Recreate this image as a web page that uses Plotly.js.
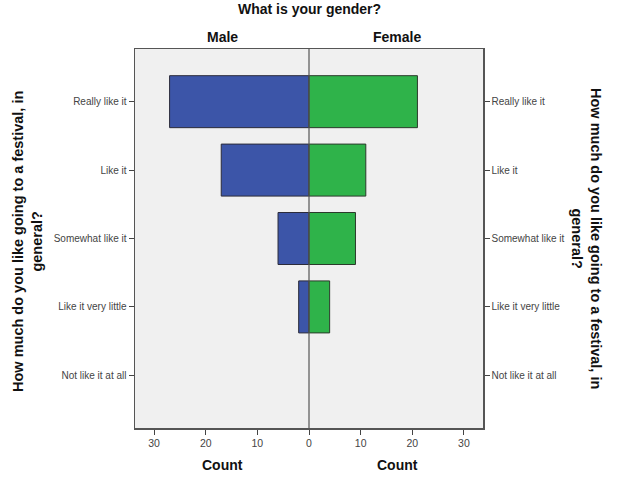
<!DOCTYPE html>
<html>
<head>
<meta charset="utf-8">
<script src="https://cdn.plot.ly/plotly-3.0.1.min.js"></script>
<style>html,body{margin:0;padding:0;background:#fff;}#chart{width:619px;height:480px;}</style>
</head>
<body>
<div id="chart"></div>
<script>
const categories = ["Really like it", "Like it", "Somewhat like it", "Like it very little", "Not like it at all"];
const maleCounts = [27, 17, 6, 2, 0];
const femaleCounts = [21, 11, 9, 4, 0];
const tickValues = [-30, -20, -10, 0, 10, 20, 30];
const tickLabels = ["30", "20", "10", "0", "10", "20", "30"];
const chartTitle = "What is your gender?";
const panelLabels = ["Male", "Female"];
const axisTitle = "How much do you like going to a festival, in<br>general?";
const countLabel = "Count";

const font = "Arial, 'Liberation Sans', sans-serif";
const yRange = [4.77, -0.77];

const traces = [
  {
    type: "bar", orientation: "h",
    x: maleCounts.map(v => -v), y: categories,
    width: 0.76,
    marker: {color: "#3c55a8", line: {color: "#2b2b3a", width: maleCounts.map(v => v > 0 ? 1 : 0)}},
    hoverinfo: "skip", yaxis: "y"
  },
  {
    type: "bar", orientation: "h",
    x: femaleCounts, y: categories,
    width: 0.76,
    marker: {color: "#2fb34a", line: {color: "#2b3a2b", width: femaleCounts.map(v => v > 0 ? 1 : 0)}},
    hoverinfo: "skip", yaxis: "y2"
  }
];

const yCommon = {
  type: "category", categoryarray: categories, categoryorder: "array",
  range: yRange, ticks: "outside", ticklen: 5, tickcolor: "#444", tickwidth: 1,
  showgrid: false, zeroline: false,
  tickfont: {family: font, size: 10, color: "#444"}
};

const layout = {
  width: 619, height: 480,
  margin: {l: 135, r: 136, t: 49, b: 52},
  paper_bgcolor: "#ffffff", plot_bgcolor: "#f0f0f0",
  barmode: "overlay", showlegend: false,
  font: {family: font},
  xaxis: {
    range: [-33.7, 33.7], tickvals: tickValues, ticktext: tickLabels,
    ticks: "outside", ticklen: 5, tickcolor: "#444",
    showline: true, linecolor: "#555", linewidth: 1.5, mirror: true,
    showgrid: false, zeroline: false,
    tickfont: {family: font, size: 10.5, color: "#444"}
  },
  yaxis: Object.assign({}, yCommon, {side: "left", showline: true, linecolor: "#555", linewidth: 1.5}),
  yaxis2: Object.assign({}, yCommon, {side: "right", overlaying: "y", showline: true, linecolor: "#555", linewidth: 1.5}),
  shapes: [
    {type: "line", xref: "x", yref: "paper", x0: 0, x1: 0, y0: 0, y1: 1, layer: "above", line: {color: "#555", width: 1.2}}
  ],
  annotations: [
    {text: "<b>" + chartTitle + "</b>", xref: "paper", yref: "paper", x: 0.5, y: 1.078, yanchor: "bottom", xanchor: "center", showarrow: false, font: {family: font, size: 14, color: "#111"}},
    {text: "<b>" + panelLabels[0] + "</b>", xref: "paper", yref: "paper", x: 0.25, y: 1.032, xanchor: "center", yanchor: "middle", showarrow: false, font: {family: font, size: 14, color: "#111"}},
    {text: "<b>" + panelLabels[1] + "</b>", xref: "paper", yref: "paper", x: 0.753, y: 1.032, xanchor: "center", yanchor: "middle", showarrow: false, font: {family: font, size: 14, color: "#111"}},
    {text: "<b>" + countLabel + "</b>", xref: "paper", yref: "paper", x: 0.25, y: -0.098, xanchor: "center", yanchor: "middle", showarrow: false, font: {family: font, size: 14, color: "#111"}},
    {text: "<b>" + countLabel + "</b>", xref: "paper", yref: "paper", x: 0.753, y: -0.098, xanchor: "center", yanchor: "middle", showarrow: false, font: {family: font, size: 14, color: "#111"}},
    {text: "<b>" + axisTitle + "</b>", xref: "paper", yref: "paper", x: (27 - 135) / 348, y: (428 - 242) / 379, xanchor: "center", yanchor: "middle", textangle: -90, showarrow: false, font: {family: font, size: 14.5, color: "#111"}},
    {text: "<b>" + axisTitle + "</b>", xref: "paper", yref: "paper", x: (587 - 135) / 348, y: (428 - 238) / 379, xanchor: "center", yanchor: "middle", textangle: 90, showarrow: false, font: {family: font, size: 14.5, color: "#111"}}
  ]
};

Plotly.newPlot("chart", traces, layout, {displayModeBar: false, staticPlot: true});
</script>
</body>
</html>
